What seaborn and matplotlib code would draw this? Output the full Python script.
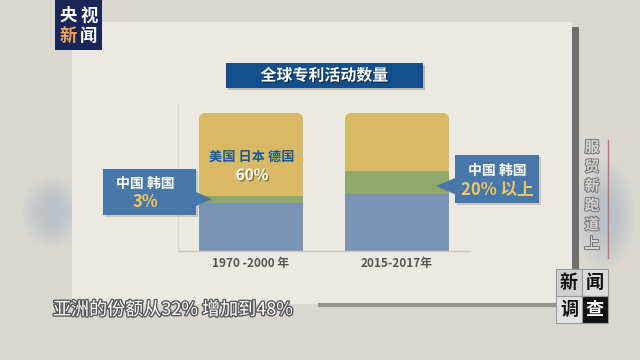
import matplotlib
matplotlib.use("Agg")
import matplotlib.pyplot as plt
import seaborn as sns
import numpy as np
from matplotlib.patches import Rectangle, Polygon, FancyBboxPatch, Ellipse
import matplotlib.patheffects as pe

plt.rcParams['font.family'] = ['Noto Sans CJK SC', 'DejaVu Sans']

# ---- data ----
periods = ["1970 -2000 年", "2015-2017年"]
other_share = [35, 41]          # blue, bottom
cn_kr_share = [5, 17]           # green, middle (中国 韩国)
us_jp_de_share = [60, 42]       # yellow, top (美国 日本 德国)

title = "全球专利活动数量"
subtitle = "亚洲的份额从32% 增加到48%"

BLUE = "#7a94b6"
GREEN = "#8ea96a"
YELLOW = "#d8ba66"

fig = plt.figure(figsize=(6.4, 3.6), dpi=100, facecolor="#d9d7d0")

# background layer (pixel coordinates)
bg = fig.add_axes([0, 0, 1, 1], zorder=0)
bg.set_xlim(0, 640); bg.set_ylim(360, 0); bg.axis("off")
for k in range(8):
    a = 0.05
    bg.add_patch(Ellipse((52, 212), 60 - 5 * k, 70 - 6 * k, fc="#8ea6bd", ec="none", alpha=a))
    bg.add_patch(Ellipse((605, 215), 60 - 5 * k, 110 - 9 * k, fc="#8ea6bd", ec="none", alpha=a))
bg.add_patch(Rectangle((72, 22), 500, 282, fc="#ece9e2", ec="none"))
bg.add_patch(Rectangle((572, 27), 7, 275, fc="#6e6e6c", ec="none"))
bg.plot([178, 178], [103, 251], color="#dcd8cf", lw=0.8)

# main chart
ax = fig.add_axes([178 / 640, 1 - 251 / 360, 292 / 640, 148 / 360], zorder=1)
ax.set_facecolor("none")
tot_top = [o + c + u for o, c, u in zip(other_share, cn_kr_share, us_jp_de_share)]
tot_mid = [o + c for o, c in zip(other_share, cn_kr_share)]
W = 0.712
for vals, col in [(tot_top, YELLOW), (tot_mid, GREEN), (other_share, BLUE)]:
    sns.barplot(x=periods, y=vals, color=col, width=W, saturation=1,
                errorbar=None, linewidth=0, ax=ax)
ax.set_xlim(-0.5, 1.5)
ax.set_ylim(0, 107.2)
# rounded top corners
for p in ax.patches:
    x0 = p.get_x()
    clip = FancyBboxPatch((x0, -20), p.get_width(), 120,
                          boxstyle="round,pad=0,rounding_size=0.045",
                          mutation_aspect=105, transform=ax.transData)
    p.set_clip_path(clip)
ax.set_xlabel(""); ax.set_ylabel("")
ax.set_yticks([])
ax.set_xticks([0, 1])
ax.set_xticklabels(periods, fontsize=8.5, color="#545454", fontweight="bold")
ax.tick_params(axis="x", length=0, pad=4)
for s in ["top", "right", "left"]:
    ax.spines[s].set_visible(False)
ax.spines["bottom"].set_color("#cbc7be")
ax.spines["bottom"].set_linewidth(1)

# foreground annotations (pixel coordinates)
fg = fig.add_axes([0, 0, 1, 1], zorder=3)
fg.set_facecolor("none")
fg.set_xlim(0, 640); fg.set_ylim(360, 0); fg.axis("off")

# title box
fg.add_patch(Rectangle((228, 65), 197, 25, fc="#9c9a94", ec="none", alpha=0.6))
fg.add_patch(Rectangle((226, 63), 197, 25, fc="#134f8d", ec="none"))
fg.text(324.5, 75.5, title, ha="center", va="center", color="white",
        fontsize=11.5, fontweight="bold",
        path_effects=[pe.withSimplePatchShadow(offset=(1, -1), shadow_rgbFace="#0a2a50", alpha=0.8)])

# bar 1 text
fg.text(252, 157, "美国 日本 德国", ha="center", va="center", color="#1f5896",
        fontsize=9.5, fontweight="bold")
fg.text(252, 175, "60%", ha="center", va="center", color="white",
        fontsize=11, fontweight="bold",
        path_effects=[pe.withSimplePatchShadow(offset=(1, -1), shadow_rgbFace="#6a5a30", alpha=0.7)])

CALL = "#4878a9"
left_poly = [(103, 169), (196, 169), (196, 192), (212, 199), (196, 206), (196, 215), (103, 215)]
fg.add_patch(Polygon([(x + 2, y + 2) for x, y in left_poly], closed=True, fc="#888", ec="none", alpha=0.35))
fg.add_patch(Polygon(left_poly, closed=True, fc=CALL, ec="none"))
fg.text(145, 184, "中国 韩国", ha="center", va="center", color="white", fontsize=10, fontweight="bold")
fg.text(145, 202, "3%", ha="center", va="center", color="#eec662", fontsize=12, fontweight="bold")

right_poly = [(539, 155), (455, 155), (455, 178), (436, 186), (455, 194), (455, 203), (539, 203)]
fg.add_patch(Polygon([(x + 2, y + 2) for x, y in right_poly], closed=True, fc="#888", ec="none", alpha=0.35))
fg.add_patch(Polygon(right_poly, closed=True, fc=CALL, ec="none"))
fg.text(497, 171, "中国 韩国", ha="center", va="center", color="white", fontsize=10, fontweight="bold")
fg.text(497, 190, "20% 以上", ha="center", va="center", color="#eec662", fontsize=12, fontweight="bold")

# CCTV logo
fg.add_patch(Rectangle((55, 0), 47, 50, fc="#1b2658", ec="none"))
fg.text(68, 16, "央", ha="center", va="center", color="white", fontsize=12.5, fontweight="bold")
fg.text(89, 16, "视", ha="center", va="center", color="white", fontsize=12.5, fontweight="bold")
fg.text(68, 36, "新", ha="center", va="center", color="#f2a35a", fontsize=12.5, fontweight="bold")
fg.text(89, 36, "闻", ha="center", va="center", color="white", fontsize=12.5, fontweight="bold")

# vertical program title
for i, ch in enumerate("服贸新跑道上"):
    fg.text(592, 147 + i * 19.3, ch, ha="center", va="center", color="#d4d4d2",
            fontsize=10.5, fontweight="bold",
            path_effects=[pe.withStroke(linewidth=1.5, foreground="#7a7a7a")])
fg.plot([608, 608], [140, 258], color="#c07272", lw=1)

# 新闻调查 logo
cells = [("新", 556, 269, "#d0d0d0", "#111111"), ("闻", 582, 269, "#dcdcdc", "#111111"),
         ("调", 556, 296, "#e2e2e2", "#111111"), ("查", 582, 296, "#111111", "white")]
for ch, x0, y0, fc, tc in cells:
    fg.add_patch(Rectangle((x0, y0), 26, 27, fc=fc, ec="#9a9a9a", lw=0.8))
    fg.text(x0 + 13, y0 + 13.5, ch, ha="center", va="center", color=tc,
            fontsize=13, fontweight="bold")

# subtitle
fg.plot([318, 556], [305, 305], color="#888884", lw=3, alpha=0.85, solid_capstyle="butt")
fg.text(53, 310, subtitle, ha="left", va="center", color="white", fontsize=13,
        path_effects=[pe.withStroke(linewidth=2, foreground="#5a5a5a")])

fig.savefig("out.png", dpi=100, facecolor=fig.get_facecolor())
